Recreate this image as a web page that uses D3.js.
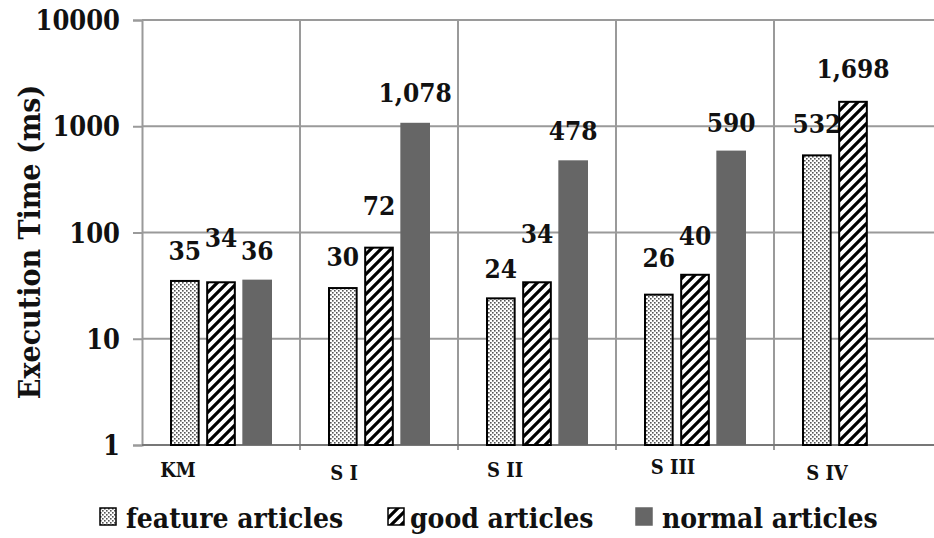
<!DOCTYPE html>
<html><head><meta charset="utf-8">
<script src="https://cdn.jsdelivr.net/npm/d3@7"></script>
<style>body{margin:0;background:#fff}svg text{font-family:"DejaVu Serif Condensed","DejaVu Serif",serif;font-stretch:condensed;font-weight:bold;fill:#111}</style>
</head><body>
<svg id="c" width="934" height="538"></svg>
<script>
// ---- data ----
const categories = ["KM", "S I", "S II", "S III", "S IV"];
const seriesNames = ["feature articles", "good articles", "normal articles"];
const featureArticles = [35, 30, 24, 26, 532];
const goodArticles = [34, 72, 34, 40, 1698];
const normalArticles = [36, 1078, 478, 590, null];
const yTickValues = [1, 10, 100, 1000, 10000];
const yTitle = "Execution Time (ms)";

// ---- layout / style ----
const W = 934, H = 538;
const plot = {left: 142, right: 932, top: 20, bottom: 445};
const labelNudge = [[0, 1, -1, 7, 1], [14, 12, 18, 9, 3], [-1, 0, -1, -2, 0]];
const catLabelShift = [-43, -35, -32, -22, -26];
const catLabelDy = [0, 3, 0, -3, 3];
const gridColor = "#9a9a9a";

const seriesValues = [featureArticles, goodArticles, normalArticles];
const svg = d3.select("#c");
const defs = svg.append("defs");

// dotted pattern
const pd = defs.append("pattern").attr("id", "dots").attr("patternUnits", "userSpaceOnUse")
  .attr("width", 4).attr("height", 4);
pd.append("rect").attr("width", 4).attr("height", 4).attr("fill", "#fff");
pd.append("rect").attr("x", 0).attr("y", 0).attr("width", 1.6).attr("height", 1.6).attr("fill", "#555");
pd.append("rect").attr("x", 2).attr("y", 2).attr("width", 1.6).attr("height", 1.6).attr("fill", "#555");
// diagonal stripes
const ps = defs.append("pattern").attr("id", "stripes").attr("patternUnits", "userSpaceOnUse")
  .attr("width", 10).attr("height", 10);
ps.append("rect").attr("width", 10).attr("height", 10).attr("fill", "#fff");
ps.append("path").attr("d", "M-2,12 L12,-2 M-7,7 L7,-7 M3,17 L17,3")
  .attr("stroke", "#000").attr("stroke-width", 3.2);

const fills = ["url(#dots)", "url(#stripes)", "#666666"];
const strokes = ["#000", "#000", "none"];

const x = d3.scaleBand().domain(categories).range([plot.left, plot.right]);
const xs = d3.scaleBand().domain(seriesNames).range([28, 130]).paddingInner(0.18);
const y = d3.scaleLog().domain([1, 10000]).range([plot.bottom, plot.top]);

// gridlines
svg.append("g").selectAll("line").data(yTickValues.filter(v => v > 1)).join("line")
  .attr("x1", plot.left).attr("x2", W).attr("y1", d => y(d)).attr("y2", d => y(d))
  .attr("stroke", gridColor).attr("stroke-width", 2);
// category separators
svg.append("g").selectAll("line").data(categories.slice(1)).join("line")
  .attr("x1", d => x(d)).attr("x2", d => x(d)).attr("y1", plot.top).attr("y2", plot.bottom + 5)
  .attr("stroke", gridColor).attr("stroke-width", 2);

// y axis
const ya = svg.append("g").attr("transform", `translate(${plot.left},0)`)
  .call(d3.axisLeft(y).tickValues(yTickValues).tickFormat(d3.format("d")).tickSize(9).tickPadding(13));
ya.select(".domain").attr("stroke", gridColor).attr("stroke-width", 2);
ya.selectAll(".tick line").attr("stroke", gridColor).attr("stroke-width", 2);
ya.attr("font-family", null).attr("font-size", null);
ya.selectAll(".tick text").attr("font-size", 27).attr("dy", "0.36em");

// bottom axis line
svg.append("line").attr("x1", plot.left).attr("x2", W).attr("y1", plot.bottom).attr("y2", plot.bottom)
  .attr("stroke", "#777").attr("stroke-width", 2);

// bars
seriesNames.forEach((s, si) => {
  const data = categories.map((c, ci) => ({c, ci, v: seriesValues[si][ci]})).filter(d => d.v != null);
  svg.append("g").selectAll("rect").data(data).join("rect")
    .attr("x", d => x(d.c) + xs(s) + (strokes[si] === "none" ? 0 : 1))
    .attr("width", xs.bandwidth() - (strokes[si] === "none" ? 0 : 2))
    .attr("y", d => y(d.v))
    .attr("height", d => y(1) - y(d.v))
    .attr("fill", fills[si]).attr("stroke", strokes[si]).attr("stroke-width", 2);
  svg.append("g").selectAll("text").data(data).join("text")
    .attr("x", d => x(d.c) + xs(s) + xs.bandwidth() / 2)
    .attr("y", d => y(d.v) - 21 - labelNudge[si][d.ci])
    .attr("text-anchor", "middle").attr("font-size", 26)
    .text(d => d3.format(",")(d.v));
});

// category labels
svg.append("g").selectAll("text").data(categories).join("text")
  .attr("x", (d, i) => x(d) + x.bandwidth() / 2 + catLabelShift[i])
  .attr("y", (d, i) => 477 + catLabelDy[i]).attr("text-anchor", "middle").attr("font-size", 20)
  .text(d => d);

// y title
svg.append("text").attr("transform", "translate(40,242) rotate(-90)")
  .attr("text-anchor", "middle").attr("font-size", 30).text(yTitle);

// legend
const legendX = [100, 388, 636];
const lg = svg.append("g").selectAll("g").data(seriesNames).join("g")
  .attr("transform", (d, i) => `translate(${legendX[i]},508)`);
lg.append("rect").attr("width", 16).attr("height", 17)
  .attr("fill", (d, i) => fills[i]).attr("stroke", (d, i) => i === 2 ? "#666" : "#000").attr("stroke-width", 1.5);
lg.append("text").attr("x", (d, i) => i === 1 ? 22 : 26).attr("y", 20).attr("font-size", 28).text(d => d);
</script>
</body></html>
